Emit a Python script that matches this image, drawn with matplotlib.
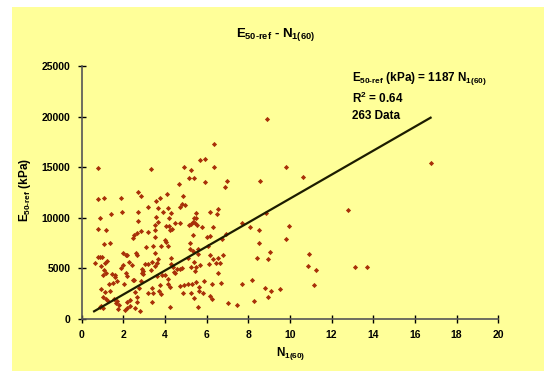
import numpy as np
import matplotlib
matplotlib.use('Agg')
import matplotlib.pyplot as plt
from matplotlib.patches import Rectangle

# N1(60) values
n160 = [0.77, 3.34, 0.77, 1.06, 1.89, 2.69, 2.85, 3.17, 3.55, 1.41, 1.93, 2.69, 0.86, 2.69, 3.57,
        0.78, 1.15, 2.83, 3.18, 2.50, 2.65, 2.47, 3.53, 3.53, 3.50,
        6.34, 5.68, 5.93, 6.35, 4.93, 5.25, 5.15, 5.41, 4.66, 5.92, 6.96, 6.88, 4.08, 4.86, 3.74,
        4.83, 4.96, 4.72, 3.66, 4.14, 3.92, 4.27, 5.47, 6.16, 6.54, 6.51, 4.18, 5.41, 5.49, 3.65,
        4.46, 4.73, 5.33, 5.44, 5.15, 5.25, 5.54, 5.76, 6.30, 4.05, 4.19, 4.22, 4.35, 4.00, 5.36,
        6.03, 6.16, 6.91, 6.72,
        1.09, 1.36, 1.98, 2.11, 2.19, 2.61, 2.65, 3.10, 3.42, 3.50, 0.77, 0.89, 0.96, 0.62, 1.21,
        1.13, 0.93, 2.29, 2.40, 1.97, 1.89, 3.02, 3.20, 3.37, 3.50, 2.89, 2.96, 3.33, 1.09, 1.15,
        1.02, 1.45, 1.58, 1.61, 1.68, 2.11, 2.17, 2.45, 2.53, 2.03, 2.89, 2.95, 2.86, 2.75, 1.30,
        1.50, 0.91, 1.10, 1.36, 1.04, 1.15, 1.25, 0.94, 1.01, 1.54, 1.70, 1.63, 1.81, 2.19, 2.33,
        2.67, 2.57, 3.17, 3.39, 3.44, 3.36, 2.65, 2.32, 2.80, 2.09, 1.77, 0.88, 2.16, 2.54, 3.79,
        3.79, 4.05, 4.13, 5.18, 5.20, 5.33, 5.57, 5.57, 6.08, 4.29, 3.65, 3.60, 4.29, 4.40, 4.59,
        4.70, 4.43, 4.48, 4.80, 5.12, 5.39, 5.66, 5.47, 5.25, 5.44, 6.11, 6.30, 6.56, 6.45, 6.64,
        6.77, 6.16, 6.56, 4.00, 3.87, 3.63, 4.16, 4.13, 4.22, 3.77, 3.71, 4.70, 4.91, 5.12, 5.28,
        5.47, 5.87, 6.27, 6.67, 4.86, 5.23, 5.65, 5.65, 5.84, 6.16, 6.24, 5.41, 5.57, 4.24, 7.01,
        8.56, 12.80, 8.83, 7.71, 8.08, 8.50, 9.95, 9.81, 8.51, 9.02, 8.42, 8.94, 10.93, 10.88,
        11.26, 11.17, 8.18, 7.71, 8.80, 9.07, 8.94, 9.53, 8.29, 7.46, 8.90, 9.79, 10.62, 16.75,
        13.10, 13.68]

# E50-ref (kPa) values
e50 = [14900, 14770, 11830, 11960, 11900, 12550, 12130, 11070, 11600, 10320, 10510, 10510, 9950, 9650, 10020,
       8830, 8760, 8630, 8560, 8300, 8430, 7970, 9230, 8760, 8040,
       17280, 15660, 15790, 14970, 14970, 14670, 13910, 13910, 13350, 13480, 13640, 12990, 12300, 12160, 11930,
       11370, 11270, 11070, 10970, 10940, 10540, 10410, 10470, 10510, 10810, 10380, 9950, 9980, 9950, 9550,
       9480, 9420, 9550, 9490, 9290, 9360, 9260, 9060, 9060, 9190, 9130, 8760, 8830, 7770, 8240,
       8100, 8170, 8370, 7900,
       7380, 7440, 6510, 6320, 6320, 6510, 6320, 7110, 7180, 6450, 6060, 6120, 6060, 5460, 5660,
       5460, 5200, 5590, 5270, 5330, 4970, 5400, 5370, 5590, 5200, 4900, 4670, 4800, 4830, 4470,
       4340, 4430, 4340, 4080, 3680, 4500, 4180, 3780, 3780, 3450, 4500, 4430, 3740, 3020, 3450,
       3480, 2890, 2590, 2750, 2100, 1900, 1760, 1240, 1070, 1960, 1730, 1560, 1340, 1630, 1830,
       2160, 2650, 2490, 3050, 2490, 1600, 1630, 1270, 770, 870, 910, 1170, 1010, 1070, 2380,
       7180, 7600, 7180, 7470, 6850, 6710, 6850, 6390, 7180, 5960, 5860, 5520, 5400, 5070, 4930,
       4930, 4600, 4470, 5000, 5960, 5620, 5300, 5130, 5070, 4730, 5400, 5860, 5960, 5520, 5520,
       6320, 6290, 4470, 4310, 4310, 4210, 3880, 3420, 3090, 3320, 2750, 3220, 3320, 3420, 3420,
       3580, 3740, 3420, 3480, 2490, 2490, 3090, 2750, 2560, 2230, 1900, 2000, 1170, 1170, 1500,
       13640, 10740, 10410, 9420, 9030, 8790, 9190, 7840, 7500, 6580, 5990, 5890, 6350, 5170,
       4770, 3320, 3780, 3450, 3050, 2690, 2160, 2920, 1730, 1340, 19750, 14970, 13980, 15420,
       5100, 5100]

slope = 1187
x_ticks = list(range(0, 21, 2))
y_ticks = list(range(0, 25001, 5000))

bg = '#FFFF99'

plt.rcParams['font.family'] = ['Liberation Sans', 'DejaVu Sans']
plt.rcParams['mathtext.fontset'] = 'custom'
plt.rcParams['mathtext.rm'] = 'Liberation Sans:bold'
plt.rcParams['mathtext.it'] = 'Liberation Sans:bold'
plt.rcParams['mathtext.bf'] = 'Liberation Sans:bold'

fig = plt.figure(figsize=(5.44, 3.71), dpi=100)
fig.patch.set_facecolor('white')
fig.add_artist(Rectangle((12 / 544, 0), 1, 1 - 7 / 371, transform=fig.transFigure,
                         facecolor=bg, edgecolor='none', zorder=0))

ax = fig.add_axes([0.150, 0.1415, 0.766, 0.6806])
ax.set_facecolor('none')

ax.scatter(n160, e50, marker='D', s=7, color='#A83008', linewidths=0, zorder=3)

# regression line through origin
xl = np.array([0.6, max(n160)])
ax.plot(xl, slope * xl, color='#1c1c00', lw=1.6, zorder=4)

ax.set_xlim(0, 20)
ax.set_ylim(0, 25000)
ax.set_xticks(x_ticks)
ax.set_yticks(y_ticks)
for s in ['top', 'right']:
    ax.spines[s].set_visible(False)
for s in ['left', 'bottom']:
    ax.spines[s].set_color('#555555')
    ax.spines[s].set_linewidth(1.2)
ax.tick_params(direction='inout', length=6, width=1, labelsize=7.5, pad=5)
for lab in ax.get_xticklabels() + ax.get_yticklabels():
    lab.set_fontweight('bold')

fig.text(275 / 544, 1 - 35 / 371, r'$E_{\text{50-ref}}$ - $N_{\text{1(60)}}$',
         ha='center', va='center', fontsize=9.5, fontweight='bold')
fig.text(291 / 544, 1 - 353 / 371, r'$N_{\text{1(60)}}$',
         ha='center', va='center', fontsize=8.5, fontweight='bold')
fig.text(25 / 544, 1 - 190 / 371, r'$E_{\text{50-ref}}$ (kPa)', rotation=90,
         ha='center', va='center', fontsize=8.5, fontweight='bold')

fig.text(352 / 544, 1 - 79 / 371, r'$E_{\text{50-ref}}$ (kPa) = 1187 $N_{\text{1(60)}}$',
         ha='left', va='center', fontsize=8.5, fontweight='bold')
fig.text(352 / 544, 1 - 98 / 371, r'R$^2$ = 0.64',
         ha='left', va='center', fontsize=8.5, fontweight='bold')
fig.text(352 / 544, 1 - 116 / 371, '263 Data',
         ha='left', va='center', fontsize=8.5, fontweight='bold')

fig.savefig('out.png', dpi=100, facecolor=fig.get_facecolor())
